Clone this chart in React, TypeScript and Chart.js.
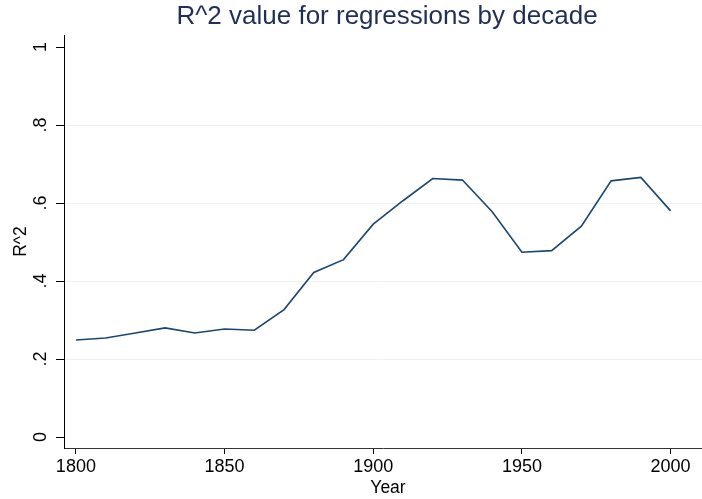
import React, { useEffect, useRef } from "react";
import { Chart, registerables } from "chart.js";

Chart.register(...registerables);

const years = [1800, 1810, 1820, 1830, 1840, 1850, 1860, 1870, 1880, 1890, 1900, 1910, 1920, 1930, 1940, 1950, 1960, 1970, 1980, 1990, 2000];
const r2Values = [0.249, 0.254, 0.267, 0.280, 0.267, 0.277, 0.274, 0.327, 0.422, 0.455, 0.546, 0.606, 0.663, 0.659, 0.578, 0.474, 0.478, 0.541, 0.657, 0.666, 0.580];
const xTicks = [1800, 1850, 1900, 1950, 2000];
const yTicks = [0, 0.2, 0.4, 0.6, 0.8, 1];
const yTickLabels = ["0", ".2", ".4", ".6", ".8", "1"];
const gridValues = [0.2, 0.4, 0.6, 0.8];

const FONT = "'Liberation Sans', Arial, sans-serif";

// Stata centres titles on a plot region wider than the visible canvas;
// nudge the title boxes after layout (pixel mapping is already configured).
const centerShift = {
  id: "centerShift",
  afterLayout(chart: any) {
    const t = chart.titleBlock;
    if (t) {
      t.left += 4;
      t.right += 4;
    }
    if (chart.scales.x) chart.scales.x.right += 10;
  },
};

export default function App() {
  const ref = useRef<HTMLCanvasElement | null>(null);

  useEffect(() => {
    if (!ref.current) return;
    const chart = new Chart(ref.current, {
      type: "line",
      data: {
        datasets: [
          {
            data: years.map((y, i) => ({ x: y, y: r2Values[i] })),
            borderColor: "#1a476f",
            borderWidth: 1.6,
            pointRadius: 0,
            tension: 0,
            fill: false,
          },
        ],
      },
      plugins: [centerShift],
      options: {
        responsive: false,
        animation: false,
        devicePixelRatio: 1,
        layout: { padding: { left: 0, right: 0, top: 0, bottom: 0 } },
        plugins: {
          legend: { display: false },
          tooltip: { enabled: false },
          title: {
            display: true,
            text: "R^2 value for regressions by decade",
            fullSize: false,
            color: "#1f2f55",
            font: { family: FONT, size: 26, weight: "normal" },
            padding: { top: 1, bottom: 2.8 },
          },
        },
        scales: {
          x: {
            type: "linear",
            min: 1796.0,
            max: 2010.56,
            afterBuildTicks: (scale: any) => {
              scale.ticks = xTicks.map((v) => ({ value: v }));
            },
            afterFit: (scale: any) => {
              scale.height = 51;
            },
            grid: {
              drawOnChartArea: false,
              drawTicks: true,
              tickLength: 6,
              tickColor: "#000",
            },
            border: { display: true, color: "#333", width: 1 },
            ticks: {
              color: "#000",
              padding: 2,
              maxRotation: 0,
              minRotation: 0,
              font: { family: FONT, size: 18 },
              callback: (v: any) => String(v),
            },
            title: {
              display: true,
              text: "Year",
              color: "#000",
              font: { family: FONT, size: 17.5 },
              padding: { top: 0, bottom: 0 },
            },
          },
          y: {
            type: "linear",
            min: -0.028,
            max: 1.031,
            afterBuildTicks: (scale: any) => {
              scale.ticks = yTicks.map((v) => ({ value: v }));
            },
            afterFit: (scale: any) => {
              scale.width = 64;
            },
            grid: {
              drawOnChartArea: true,
              drawTicks: true,
              tickLength: 8,
              tickColor: "#000",
              lineWidth: 1,
              color: (ctx: any) =>
                ctx.tick && gridValues.some((g) => Math.abs(g - ctx.tick.value) < 1e-9)
                  ? "#eaf2f3"
                  : "rgba(0,0,0,0)",
            },
            border: { display: true, color: "#000", width: 1 },
            ticks: {
              color: "#000",
              padding: 7,
              minRotation: 90,
              maxRotation: 90,
              crossAlign: "center",
              font: { family: FONT, size: 18 },
              callback: (_v: any, i: number) => yTickLabels[i],
            },
            title: {
              display: true,
              text: "R^2",
              color: "#000",
              font: { family: FONT, size: 17.5 },
              padding: { top: 10.5, bottom: 0 },
            },
          },
        },
      } as any,
    });
    return () => chart.destroy();
  }, []);

  return (
    <div style={{ position: "fixed", left: 0, top: 0, width: 702, height: 499, background: "#fff" }}>
      <canvas ref={ref} width={702} height={499} style={{ display: "block" }} />
    </div>
  );
}
